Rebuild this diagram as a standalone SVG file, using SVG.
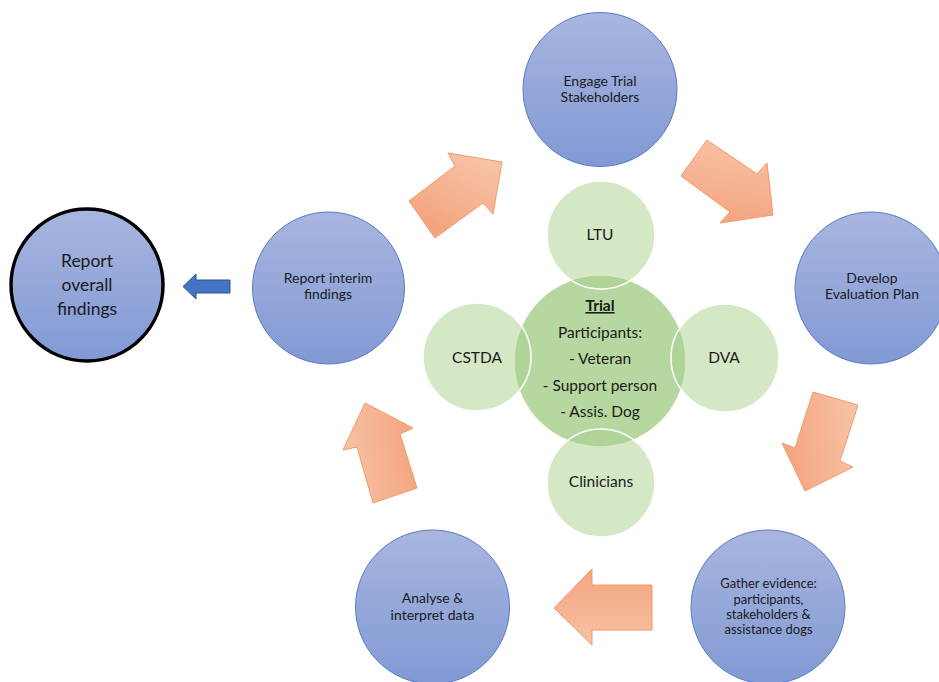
<svg xmlns="http://www.w3.org/2000/svg" width="939" height="682" viewBox="0 0 939 682">
<defs>
<linearGradient id="blueG" x1="0" y1="0" x2="0" y2="1">
<stop offset="0" stop-color="#A8B6DF"/>
<stop offset="1" stop-color="#8199D4"/>
</linearGradient>
<linearGradient id="org1" x1="0.8" y1="0.1" x2="0.3" y2="0.9">
<stop offset="0" stop-color="#F7C2A6"/>
<stop offset="1" stop-color="#F4A47E"/>
</linearGradient>
<linearGradient id="org2" x1="0.6" y1="0" x2="0.4" y2="1">
<stop offset="0" stop-color="#F7C2A6"/>
<stop offset="1" stop-color="#F4A47E"/>
</linearGradient>
<linearGradient id="org3" x1="1" y1="0.4" x2="0" y2="0.6">
<stop offset="0" stop-color="#F7C2A6"/>
<stop offset="1" stop-color="#F4A47E"/>
</linearGradient>
<linearGradient id="org4" x1="0" y1="0.6" x2="1" y2="0.4">
<stop offset="0" stop-color="#F7C2A6"/>
<stop offset="1" stop-color="#F4A47E"/>
</linearGradient>
<linearGradient id="org5" x1="0" y1="1" x2="0" y2="0">
<stop offset="0" stop-color="#F7C2A6"/>
<stop offset="1" stop-color="#F4A47E"/>
</linearGradient>
<style>
.step{stroke:#5A7AC6;stroke-width:1}
.final{stroke:#000;stroke-width:3.5}
.sat{fill:#A9D18E;fill-opacity:0.5;stroke:#fff;stroke-width:1.5}
.hub{fill:#B6D7A0;stroke:#fff;stroke-width:1.5}
.arr{stroke:#F29A68;stroke-width:1;stroke-linejoin:miter}
.blue{fill:#4472C4;stroke:#2F528F;stroke-width:1}
text{font-family:Lato,"Liberation Sans",sans-serif;fill:#1A1A1A;text-anchor:middle}
.s{font-size:14px}
.g{font-size:13px}
.m{font-size:15.5px}
.l{font-size:17.5px}
</style>
</defs>
<g id="hub-trial">
<circle class="hub" cx="600" cy="361" r="86"/>
</g>
<g id="sat-ltu">
<circle class="sat" cx="601" cy="235" r="54"/>
<text class="m" x="600" y="240">LTU</text>
</g>
<g id="sat-cstda">
<circle class="sat" cx="477" cy="357" r="54"/>
<text class="m" x="477" y="363">CSTDA</text>
</g>
<g id="sat-dva">
<circle class="sat" cx="725" cy="358" r="54"/>
<text class="m" x="724" y="363">DVA</text>
</g>
<g id="sat-clinicians">
<circle class="sat" cx="601" cy="483" r="54"/>
<text class="m" x="601" y="487">Clinicians</text>
</g>
<g id="hub-text">
<text class="m" x="600" y="311" font-weight="bold" text-decoration="underline">Trial</text>
<text class="m" x="600" y="338">Participants:</text>
<text class="m" x="600" y="364">- Veteran</text>
<text class="m" x="600" y="391">- Support person</text>
<text class="m" x="600" y="417">- Assis. Dog</text>
</g>
<g id="engage">
<circle class="step" fill="url(#blueG)" cx="600" cy="89.5" r="77"/>
<text class="s" x="600" y="86">Engage Trial</text>
<text class="s" x="600" y="102">Stakeholders</text>
</g>
<g id="develop">
<circle class="step" fill="url(#blueG)" cx="871" cy="288" r="76"/>
<text class="s" x="872" y="283">Develop</text>
<text class="s" x="872" y="299">Evaluation Plan</text>
</g>
<g id="gather">
<circle class="step" fill="url(#blueG)" cx="768" cy="607" r="77"/>
<text class="g" x="768.5" y="588">Gather evidence:</text>
<text class="g" x="768.5" y="604">participants,</text>
<text class="g" x="768.5" y="619">stakeholders &amp;</text>
<text class="g" x="768.5" y="634">assistance dogs</text>
</g>
<g id="analyse">
<circle class="step" fill="url(#blueG)" cx="432.5" cy="607" r="77"/>
<text class="s" x="432.5" y="603">Analyse &amp;</text>
<text class="s" x="432.5" y="620">interpret data</text>
</g>
<g id="interim">
<circle class="step" fill="url(#blueG)" cx="328.5" cy="288" r="76"/>
<text class="s" x="328" y="283">Report interim</text>
<text class="s" x="328" y="299">findings</text>
</g>
<g id="overall">
<circle class="final" fill="url(#blueG)" cx="87" cy="285" r="76"/>
<text class="l" x="87" y="267">Report</text>
<text class="l" x="87" y="291">overall</text>
<text class="l" x="87" y="315">findings</text>
</g>
<g id="connectors">
<polygon class="arr" fill="url(#org1)" points="409,201 455,166 448,153 502,162 493,214 483,203 435,238"/>
<polygon class="arr" fill="url(#org2)" points="707,140 757,174 767,163 773,215 720,223 730,212 681,176"/>
<polygon class="arr" fill="url(#org3)" points="813,392 858,405 840,461 853,467 805,491 782,443 795,448"/>
<polygon class="arr" fill="url(#org5)" points="554,608 592,569 592,585 652,585 652,630 592,630 592,645"/>
<polygon class="arr" fill="url(#org4)" points="365,403 413,428 400,434 417,488 373,503 357,447 343,450"/>
<polygon class="blue" points="183,286.5 196,274 196,280 230,280 230,293 196,293 196,299"/>
</g>
</svg>
